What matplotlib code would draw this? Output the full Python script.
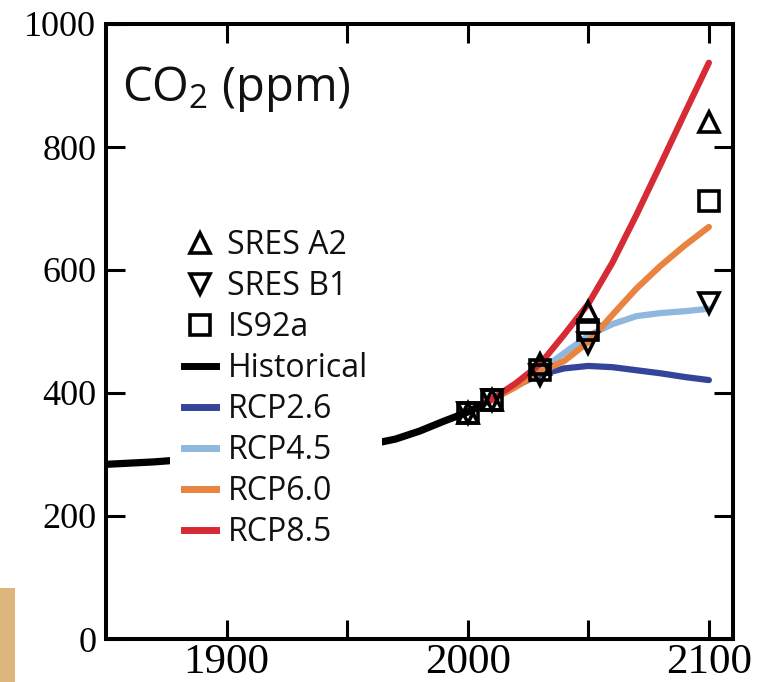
import numpy as np
import matplotlib
matplotlib.use("Agg")
import matplotlib.pyplot as plt
from matplotlib.lines import Line2D
from matplotlib.patches import Rectangle

# historical CO2 (ppm)
hist_years = [1850, 1860, 1870, 1880, 1890, 1900, 1910, 1920, 1930, 1940,
              1950, 1960, 1970, 1980, 1990, 2000, 2005]
hist_co2 = [284, 286, 288, 291, 294, 296, 300, 303, 307, 310,
            311, 317, 325, 338, 354, 369, 379]

# RCP scenarios
rcp_years = [2005, 2010, 2020, 2030, 2040, 2050, 2060, 2070, 2080, 2090, 2100]
rcp26 = [379, 389, 412, 430, 440, 444, 442, 437, 432, 426, 421]
rcp45 = [379, 389, 412, 436, 465, 493, 512, 525, 530, 533, 537]
rcp60 = [379, 389, 410, 434, 452, 483, 527, 570, 607, 640, 670]
rcp85 = [379, 390, 416, 447, 495, 545, 612, 690, 772, 855, 937]

# older scenario markers
mark_years = [2000, 2010, 2030, 2050, 2100]
sres_a2 = [368, 388, 447, 532, 840]
sres_b1 = [368, 388, 430, 482, 546]
is92a = [368, 388, 438, 502, 713]

col26 = "#33449a"
col45 = "#8fb8dc"
col60 = "#e8843f"
col85 = "#d62a35"

sans = ["Open Sans", "DejaVu Sans"]
serif = ["Liberation Serif", "DejaVu Serif"]
plt.rcParams["mathtext.default"] = "regular"

fig = plt.figure(figsize=(7.65, 6.82), dpi=100)
ax = fig.add_axes([106/765, 1 - 639/682, 627/765, 615/682])

lw = 4.5
ax.plot(hist_years, hist_co2, color="black", lw=5.2, solid_capstyle="round", zorder=3)
ax.plot(rcp_years, rcp26, color=col26, lw=lw, solid_capstyle="round", zorder=2)
ax.plot(rcp_years, rcp45, color=col45, lw=lw, solid_capstyle="round", zorder=2)
ax.plot(rcp_years, rcp60, color=col60, lw=lw, solid_capstyle="round", zorder=2)
ax.plot(rcp_years, rcp85, color=col85, lw=lw, solid_capstyle="round", zorder=2)

mew = 2.6
ax.plot(mark_years, sres_a2, ls="none", marker="^", ms=15, mfc="none", mec="black", mew=mew, zorder=5)
ax.plot(mark_years, sres_b1, ls="none", marker="v", ms=15, mfc="none", mec="black", mew=mew, zorder=5)
ax.plot(mark_years, is92a, ls="none", marker="s", ms=14, mfc="none", mec="black", mew=mew, zorder=5)

ax.set_xlim(1850, 2110)
ax.set_ylim(0, 1000)
ax.set_xticks([1900, 2000, 2100])
ax.set_xticks([1950, 2050], minor=True)
ax.set_yticks([0, 200, 400, 600, 800, 1000])
ax.tick_params(which="both", direction="in", length=14, width=2.2,
               top=True, right=True, colors="black")
ax.tick_params(axis="x", which="both", pad=3, labelsize=31)
ax.tick_params(axis="y", pad=7, labelsize=26)
for lab in ax.get_xticklabels() + ax.get_yticklabels():
    lab.set_fontfamily(serif)
for sp in ax.spines.values():
    sp.set_linewidth(2.9)

ax.text(0.026, 0.875, r"CO$_2$ (ppm)", transform=ax.transAxes,
        fontsize=34, family=sans, color="#111111", va="baseline", ha="left")

handles = [
    Line2D([], [], ls="none", marker="^", ms=15, mfc="none", mec="black", mew=mew),
    Line2D([], [], ls="none", marker="v", ms=15, mfc="none", mec="black", mew=mew),
    Line2D([], [], ls="none", marker="s", ms=14, mfc="none", mec="black", mew=mew),
    Line2D([], [], color="black", lw=5),
    Line2D([], [], color=col26, lw=5),
    Line2D([], [], color=col45, lw=5),
    Line2D([], [], color=col60, lw=5),
    Line2D([], [], color=col85, lw=5),
]
labels = ["SRES A2", "SRES B1", "IS92a", "Historical",
          "RCP2.6", "RCP4.5", "RCP6.0", "RCP8.5"]
leg = ax.legend(handles, labels, loc="upper left", bbox_to_anchor=(0.102, 0.69),
                frameon=True, fancybox=False, framealpha=1, facecolor="white",
                edgecolor="none", handlelength=1.0, handletextpad=0.35,
                labelspacing=0.25, borderpad=0.45, borderaxespad=0,
                prop={"family": sans, "size": 23})
for t in leg.get_texts():
    t.set_color("#111111")
leg.set_zorder(10)

# stray strip from a neighbouring panel
fig.patches.append(Rectangle((0, 0), 15/765, 94/682, transform=fig.transFigure,
                             facecolor="#ddb67c", edgecolor="none"))

fig.savefig("out.png", dpi=100)
